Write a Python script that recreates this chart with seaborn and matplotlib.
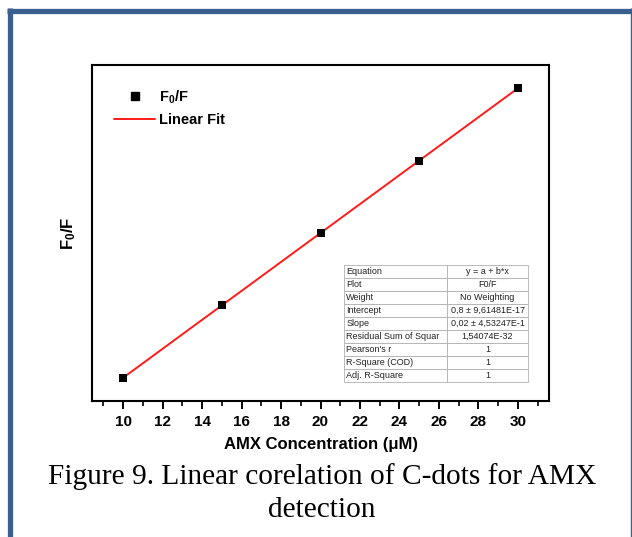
import matplotlib
matplotlib.use("Agg")
import matplotlib.pyplot as plt
import seaborn as sns
import pandas as pd
from matplotlib.lines import Line2D
from matplotlib.ticker import MultipleLocator

conc = [10, 15, 20, 25, 30]
ratio = [1.0, 1.1, 1.2, 1.3, 1.4]
xticks = [10, 12, 14, 16, 18, 20, 22, 24, 26, 28, 30]

table_labels = ["Equation", "Plot", "Weight", "Intercept", "Slope",
                "Residual Sum of Squar", "Pearson's r", "R-Square (COD)", "Adj. R-Square"]
table_values = ["y = a + b*x", "F0/F", "No Weighting", "0,8 \u00b1 9,61481E-17",
                "0,02 \u00b1 4,53247E-1", "1,54074E-32", "1", "1", "1"]

sns.set_style("white")
plt.rcParams['font.family'] = ['Liberation Sans', 'DejaVu Sans']
plt.rcParams['mathtext.fontset'] = 'custom'
plt.rcParams['mathtext.rm'] = 'Liberation Sans'
plt.rcParams['mathtext.bf'] = 'Liberation Sans:bold'
plt.rcParams['text.color'] = 'black'
plt.rcParams['axes.labelcolor'] = 'black'
plt.rcParams['xtick.color'] = 'black'
plt.rcParams['ytick.color'] = 'black'

df = pd.DataFrame({"conc": conc, "ratio": ratio})

W, H = 632, 537
fig = plt.figure(figsize=(W / 100, H / 100), dpi=100)
ax = fig.add_axes([92 / W, 1 - 401 / H, (549 - 92) / W, (401 - 65) / H])

sns.regplot(data=df, x="conc", y="ratio", ci=None, ax=ax, marker="s",
            scatter_kws=dict(s=38, color="black", alpha=1, zorder=3, linewidths=0),
            line_kws=dict(color="#ff1a1a", lw=1.4, zorder=2))

ax.set_xlim(8.43, 31.57)
ax.set_ylim(0.968, 1.432)
ax.set_xticks(xticks)
ax.xaxis.set_minor_locator(MultipleLocator(1))
ax.set_yticks([])
ax.tick_params(axis="x", which="major", direction="out", length=6, width=1.4,
               bottom=True, labelsize=11, pad=4, colors="black")
ax.tick_params(axis="x", which="minor", direction="out", length=3.5, width=1.2, bottom=True)
for lab in ax.get_xticklabels():
    lab.set_fontweight("bold")
for sp in ax.spines.values():
    sp.set_visible(True)
    sp.set_color("black")
    sp.set_linewidth(1.5)

ax.set_xlabel("AMX Concentration (\u03bcM)", fontsize=12, fontweight="bold", labelpad=6)
ax.set_ylabel(r"$\mathbf{F_0/F}$", fontsize=12, labelpad=10)

handles = [Line2D([], [], marker="s", color="black", linestyle="none", markersize=5.5),
           Line2D([], [], color="#ff1a1a", lw=1.4)]
leg = ax.legend(handles, [r"$\mathbf{F_0/F}$", "Linear Fit"], loc="upper left",
                bbox_to_anchor=(0.02, 0.97), frameon=False, fontsize=10.5,
                handlelength=2.8, handletextpad=0.3, labelspacing=0.5)
for t in leg.get_texts():
    t.set_fontweight("bold")

cells = [[a, b] for a, b in zip(table_labels, table_values)]
tb = ax.table(cellText=cells, colWidths=[0.56, 0.44], cellLoc="left",
              bbox=[(344 - 92) / 457, (401 - 382) / 336, (528 - 344) / 457, (382 - 265) / 336])
tb.auto_set_font_size(False)
tb.set_fontsize(6.5)
for (r, c), cell in tb.get_celld().items():
    cell.set_edgecolor("#b0b0b0")
    cell.set_linewidth(0.6)
    cell.PAD = 0.02
    cell.get_text().set_color("#222222")
    if c == 1:
        cell.get_text().set_horizontalalignment("center")
        cell._loc = "center"

fig.text(322 / W, 1 - 477 / H, "Figure 9. Linear corelation of C-dots for AMX",
         ha="center", va="center", fontsize=21.2, family="Liberation Serif")
fig.text(322 / W, 1 - 510 / H, "detection",
         ha="center", va="center", fontsize=21.2, family="Liberation Serif")

blue = "#3a5f8f"
fig.add_artist(Line2D([9.5 / W, 9.5 / W], [0, 1 - 8 / H], color=blue, lw=3.8,
                      transform=fig.transFigure, solid_capstyle="butt"))
fig.add_artist(Line2D([7 / W, 1], [1 - 10.5 / H, 1 - 10.5 / H], color=blue, lw=3.8,
                      transform=fig.transFigure, solid_capstyle="butt"))
fig.add_artist(Line2D([630.5 / W, 630.5 / W], [0, 1 - 8 / H], color=blue, lw=1.0,
                      transform=fig.transFigure, solid_capstyle="butt"))

fig.savefig("out.png", dpi=100)
